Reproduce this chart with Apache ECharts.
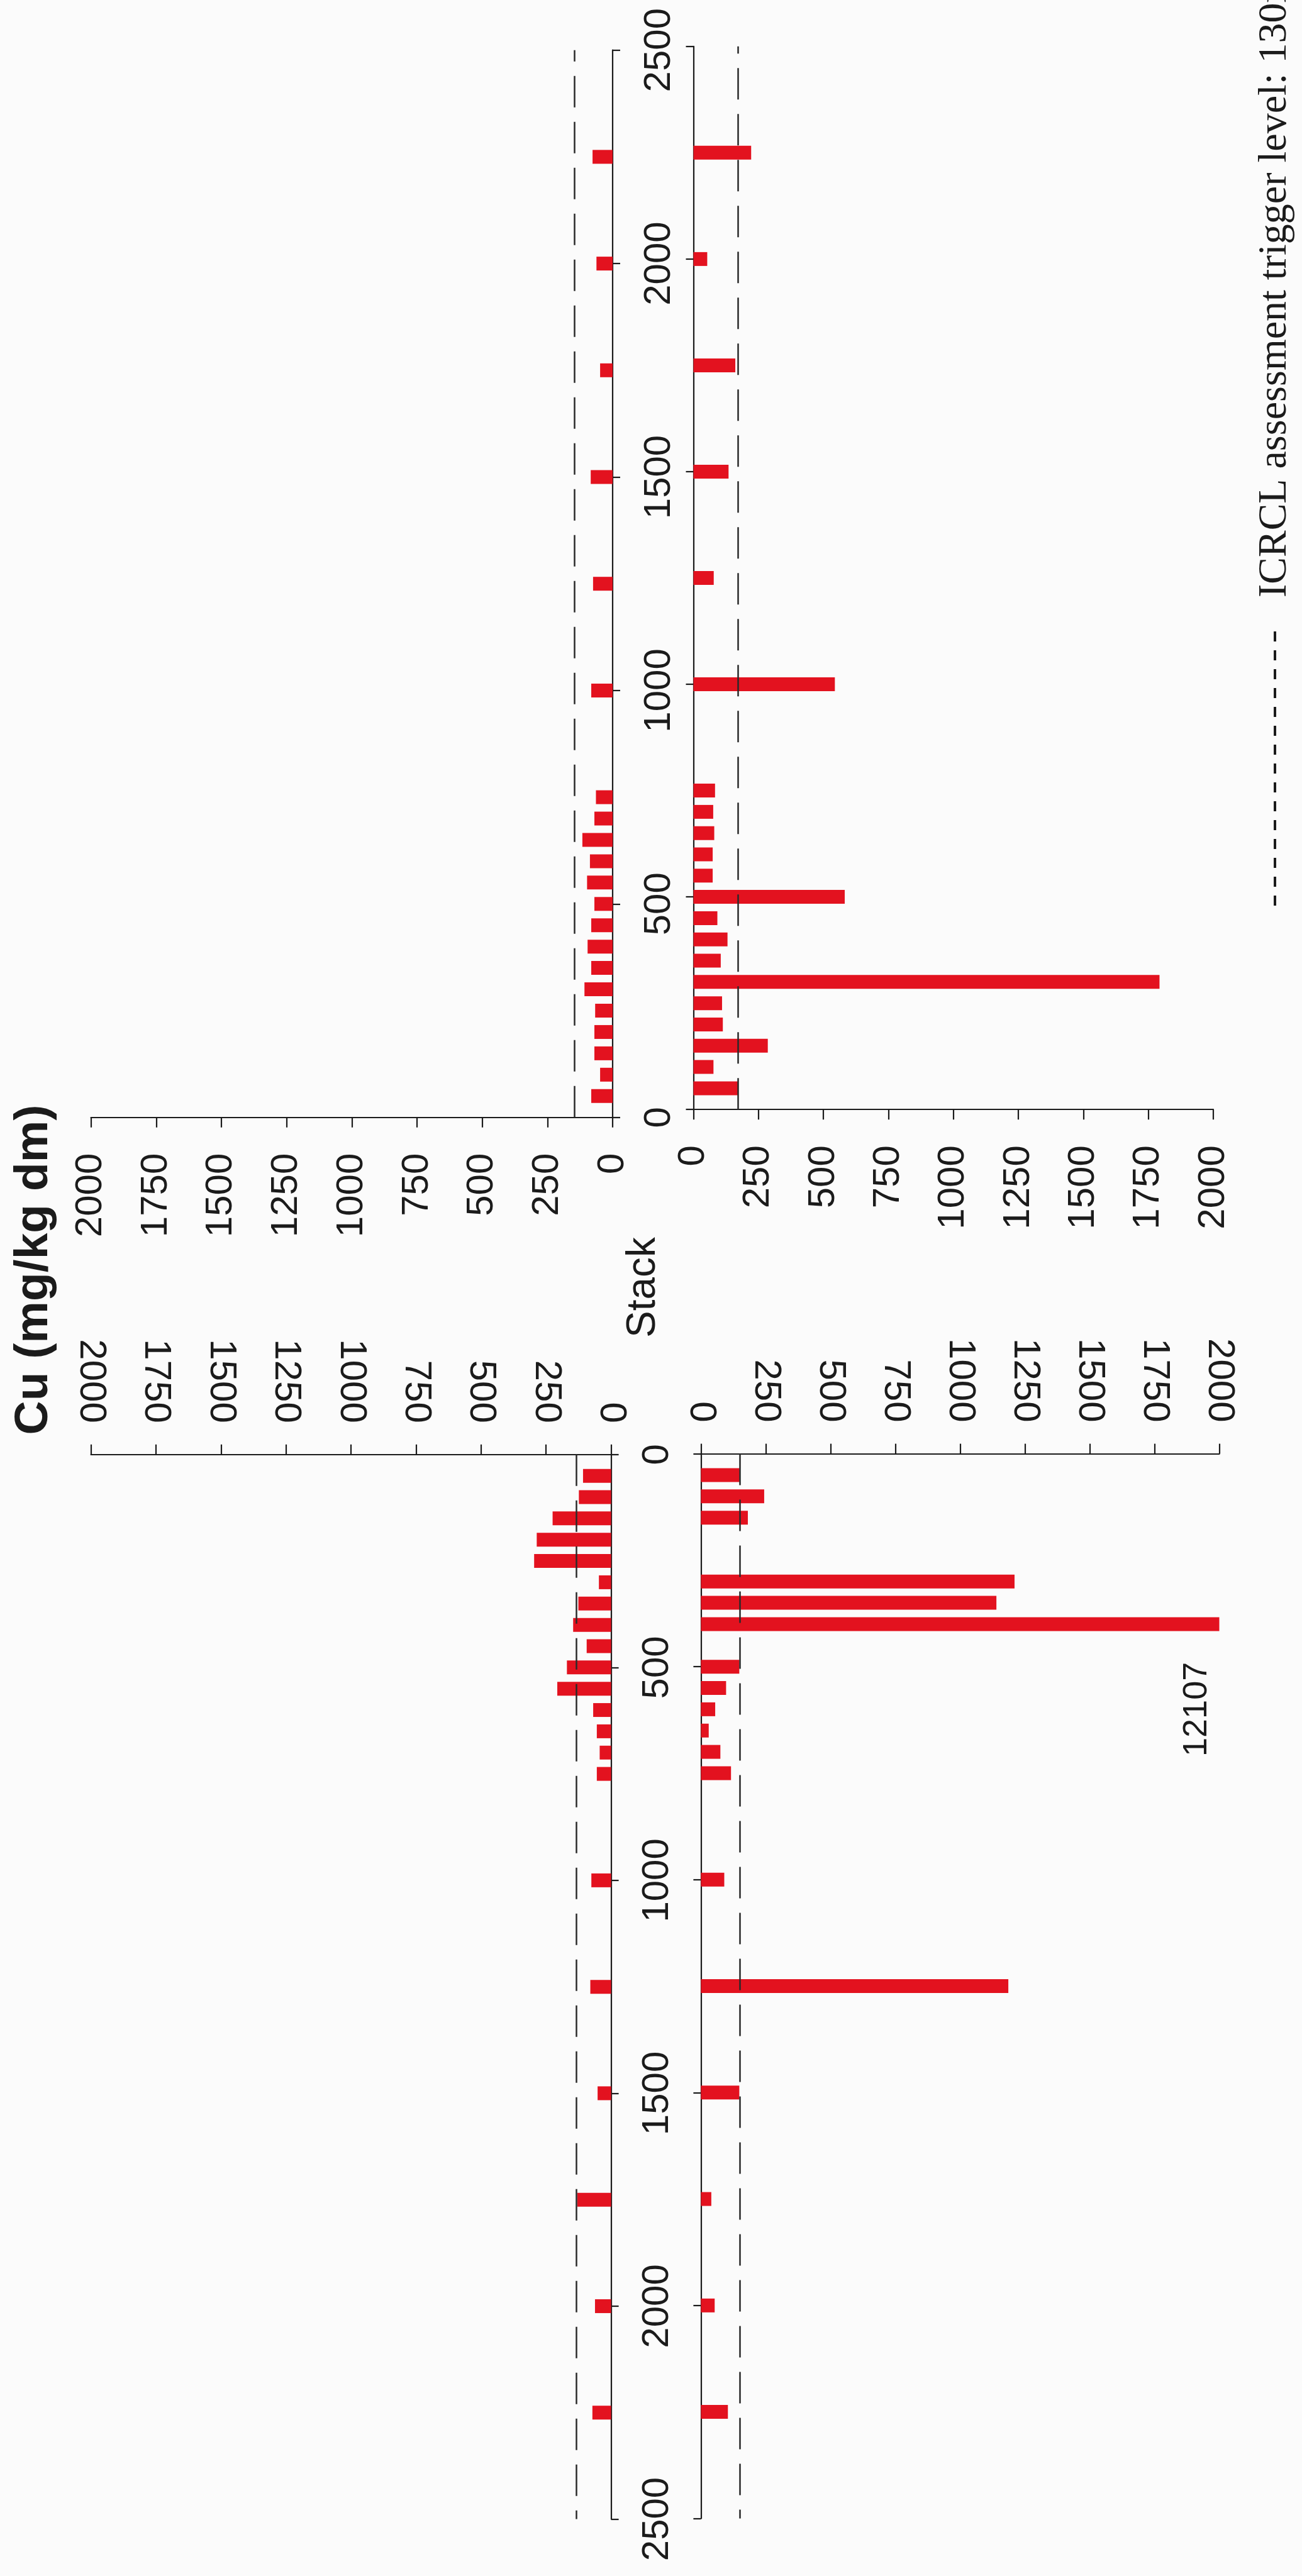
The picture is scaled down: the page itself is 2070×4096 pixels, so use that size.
<!DOCTYPE html>
<html>
<head>
<meta charset="utf-8">
<script src="https://cdn.jsdelivr.net/npm/echarts@6/dist/echarts.min.js"></script>
<style>
html,body{margin:0;padding:0;background:#fbfbfb;}
#chart{width:2070px;height:4096px;}
</style>
</head>
<body>
<div id="chart"></div>
<script>
// ---- data ----
// sampled depths (stack height axis)
const depths = [50,100,150,200,250,300,350,400,450,500,550,600,650,700,750,1000,1250,1500,1750,2000,2250];
// depth-axis tick labels
const depthTickLabels = ['0','500','1000','1500','2000','2500'];
// Cu (mg/kg dm) tick labels
const cuTickLabels = ['0','250','500','750','1000','1250','1500','1750','2000'];
// Cu concentration per panel (null = no sample)
const cuTopLeft     = [82,48,70,70,67,108,82,96,82,70,98,87,116,70,64,82,75,84,48,62,77];
const cuTopRight    = [172,77,286,113,110,1793,105,131,92,582,74,74,80,76,83,544,78,135,161,53,222];
const cuBottomLeft  = [108,124,225,286,296,47,126,146,94,170,207,69,55,44,55,76,80,52,130,62,72];
const cuBottomRight = [149,244,181,null,null,1210,1140,12107,null,148,97,55,30,75,116,90,1186,148,40,53,104];
// dashed trigger-level lines as drawn in each panel
const triggerLines = [146,172,135,151];
// off-scale value annotation (bottom-right panel)
const offScaleNote = {text:'12107', cu:1915, depth:'600'};

// ---- chart building ----
const depthCategories = [];
for (let d = 0; d <= 2500; d += 50) depthCategories.push(String(d));

const FONT = '"Liberation Sans", Arial, Helvetica, sans-serif';
const SERIF = '"Liberation Serif", "Times New Roman", serif';
const INK = '#1b1b1b';
const RED = '#e3121f';

const panels = [
  {grid:{left:144.6, top:79.7,   width:829.4, height:1697.0}, values:cuTopLeft,     invX:true,  xPos:'bottom', yPos:'right', invY:false, depthLabels:true,  trig:triggerLines[0], margin:57},
  {grid:{left:1102.5,top:73.8,   width:826.5, height:1690.4}, values:cuTopRight,    invX:false, xPos:'bottom', yPos:'left',  invY:false, depthLabels:false, trig:triggerLines[1], margin:57},
  {grid:{left:144.6, top:2312.8, width:827.0, height:1692.7}, values:cuBottomLeft,  invX:true,  xPos:'top',    yPos:'right', invY:true,  depthLabels:true,  trig:triggerLines[2], margin:50},
  {grid:{left:1114.4,top:2311.6, width:824.1, height:1692.8}, values:cuBottomRight, invX:false, xPos:'top',    yPos:'left',  invY:true,  depthLabels:false, trig:triggerLines[3], margin:50}
];

const axisLineStyle = {color:INK, width:2.2};
const grids = [], xAxes = [], yAxes = [], series = [];

panels.forEach((p, i) => {
  grids.push(Object.assign({outerBoundsMode:'none', containLabel:false}, p.grid));
  xAxes.push({
    gridIndex:i, type:'value', min:0, max:2000, interval:250,
    inverse:p.invX, position:p.xPos,
    axisLine:{show:true, onZero:false, lineStyle:axisLineStyle},
    axisTick:{show:true, inside:false, length:16, lineStyle:axisLineStyle},
    splitLine:{show:false},
    axisLabel:{show:true, rotate:90, margin:p.margin, fontSize:60, fontFamily:FONT, color:INK,
      formatter:(v) => cuTickLabels.includes(String(v)) ? String(v) : ''}
  });
  yAxes.push({
    gridIndex:i, type:'category', data:depthCategories, boundaryGap:false,
    inverse:p.invY, position:p.yPos,
    axisLine:{show:true, onZero:false, lineStyle:axisLineStyle},
    axisTick:{show:true, inside:false, interval:9, length:12, lineStyle:axisLineStyle},
    splitLine:{show:false},
    axisLabel:{show:p.depthLabels, interval:9, rotate:90, margin:44, fontSize:60, fontFamily:FONT, color:INK,
      formatter:(v) => depthTickLabels.includes(v) ? v : ''}
  });
  const data = [];
  depths.forEach((d, k) => { if (p.values[k] != null) data.push([p.values[k], String(d)]); });
  series.push({
    type:'bar', xAxisIndex:i, yAxisIndex:i, barWidth:22, data:data,
    itemStyle:{color:RED}, clip:true, silent:true,
    markLine:{
      silent:true, symbol:['none','none'], label:{show:false},
      lineStyle:{type:[50,23], color:'#2a2a2a', width:2.5},
      data:[{xAxis:p.trig}]
    }
  });
});

const chart = echarts.init(document.getElementById('chart'), null, {renderer:'canvas'});
chart.setOption({
  backgroundColor:'#fbfbfb',
  animation:false,
  grid:grids, xAxis:xAxes, yAxis:yAxes, series:series
});

const notePos = chart.convertToPixel({gridIndex:3}, [offScaleNote.cu, offScaleNote.depth]);

chart.setOption({
  graphic:[
    {type:'text', id:'title', x:54, y:2019, rotation:Math.PI/2,
      style:{text:'Cu (mg/kg dm)', fontSize:75, fontWeight:'bold', fontFamily:FONT, fill:INK, align:'center', verticalAlign:'middle'}},
    {type:'text', id:'stack', x:1023, y:2047, rotation:Math.PI/2,
      style:{text:'Stack', fontSize:64, fontFamily:FONT, fill:INK, align:'center', verticalAlign:'middle'}},
    {type:'text', id:'note', x:notePos[0], y:notePos[1], rotation:Math.PI/2,
      style:{text:offScaleNote.text, fontSize:54, fontFamily:FONT, fill:INK, align:'center', verticalAlign:'middle'}},
    {type:'line', id:'legendLine', shape:{x1:2027, y1:1440, x2:2027, y2:1002},
      style:{stroke:INK, lineWidth:4, lineDash:[16,14]}},
    {type:'text', id:'legendText', x:2027, y:950, rotation:Math.PI/2,
      style:{text:'ICRCL assessment trigger level: 130mg/kg dm', fontSize:64, fontFamily:SERIF, fill:INK, align:'left', verticalAlign:'middle'}}
  ]
});
</script>
</body>
</html>
